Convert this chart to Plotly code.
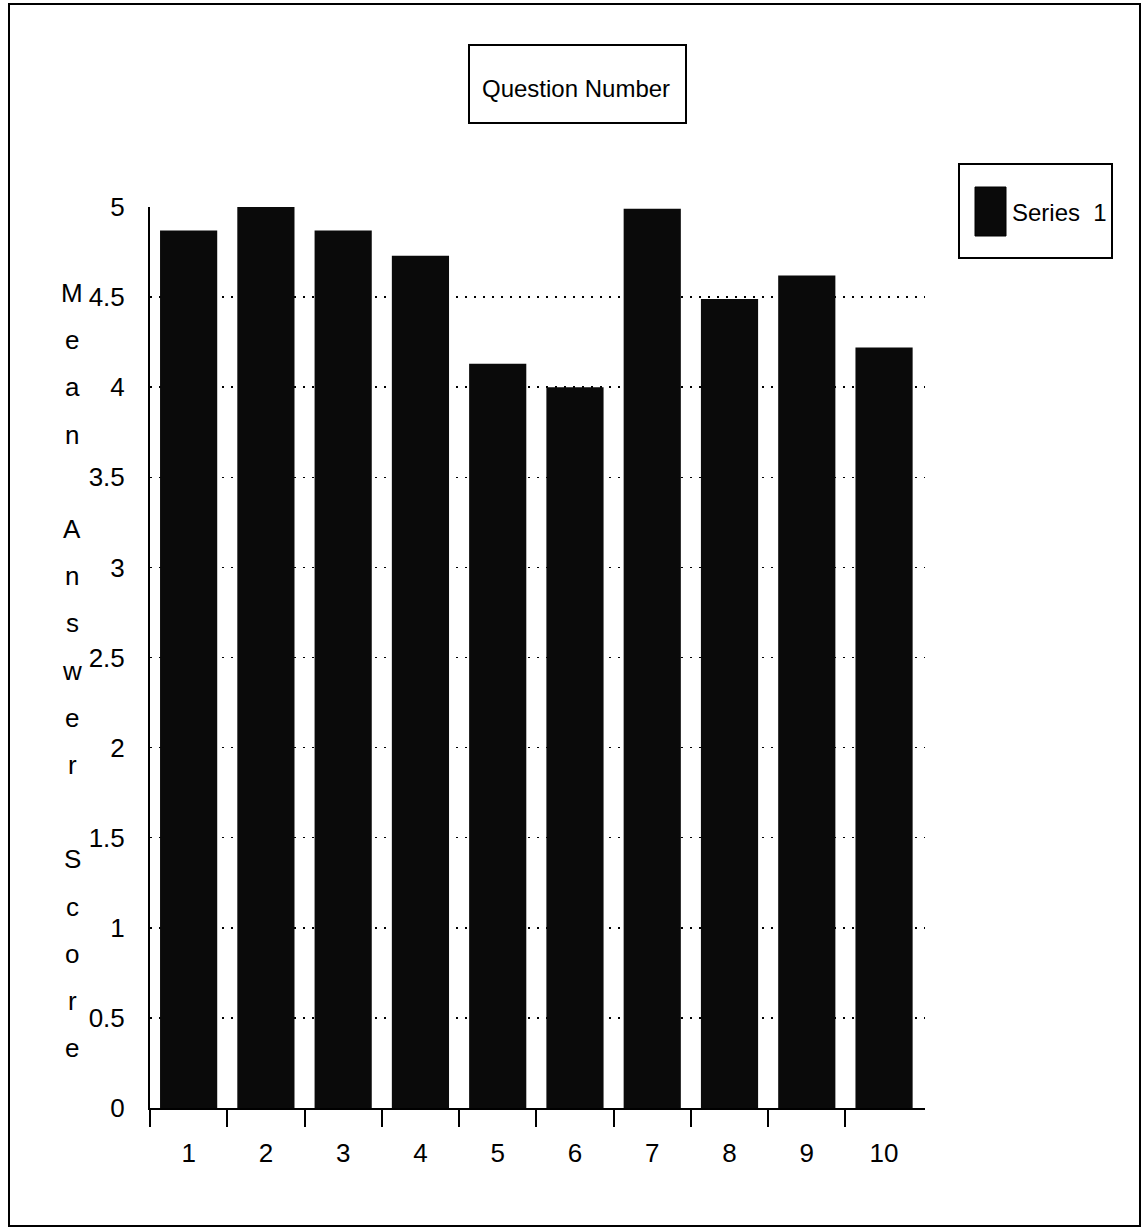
import plotly.graph_objects as go

# ---- data ----
question_numbers = [1, 2, 3, 4, 5, 6, 7, 8, 9, 10]
mean_scores = [4.87, 5.0, 4.87, 4.73, 4.13, 4.0, 4.99, 4.49, 4.62, 4.22]
series_name = "Series 1"
x_title = "Question Number"
y_title = "Mean Answer Score"
y_tick_vals = [0, 0.5, 1, 1.5, 2, 2.5, 3, 3.5, 4, 4.5, 5]
y_tick_text = ["0", "0.5", "1", "1.5", "2", "2.5", "3", "3.5", "4", "4.5", "5"]

W, H = 1146, 1230
L, R, T, B = 150, 925, 207, 1108  # plot area in pixels
FONT = "Liberation Sans, Arial, Helvetica, sans-serif"


def px(xp):
    return (xp - L) / (R - L)


def py(yp):
    return (B - yp) / (B - T)


fig = go.Figure()
fig.add_trace(go.Bar(
    x=question_numbers, y=mean_scores, name=series_name,
    marker=dict(color="#0a0a0a", line=dict(width=0)),
    showlegend=False,
))

shapes = []
annotations = []

# outer border
shapes.append(dict(type="rect", xref="paper", yref="paper",
                   x0=px(9), x1=px(1140), y0=py(1226), y1=py(4),
                   line=dict(color="black", width=2), fillcolor="rgba(0,0,0,0)"))
# title box
shapes.append(dict(type="rect", xref="paper", yref="paper",
                   x0=px(469), x1=px(686), y0=py(123), y1=py(45),
                   line=dict(color="black", width=2), fillcolor="white"))
annotations.append(dict(text=x_title, xref="paper", yref="paper",
                        x=px(576), y=py(88), showarrow=False,
                        xanchor="center", yanchor="middle",
                        font=dict(family=FONT, size=24, color="black")))
# legend box
shapes.append(dict(type="rect", xref="paper", yref="paper",
                   x0=px(959), x1=px(1112), y0=py(258), y1=py(164),
                   line=dict(color="black", width=2), fillcolor="white"))
shapes.append(dict(type="rect", xref="paper", yref="paper",
                   x0=px(975), x1=px(1006), y0=py(236), y1=py(187),
                   line=dict(color="black", width=1), fillcolor="#0a0a0a"))
annotations.append(dict(text=series_name.replace(" ", "&nbsp;&nbsp;"), xref="paper", yref="paper",
                        x=px(1010), y=py(213), showarrow=False,
                        xanchor="left", yanchor="middle",
                        font=dict(family=FONT, size=24, color="black")))

# stacked vertical y-axis title
for i, ch in enumerate(y_title):
    if ch == " ":
        continue
    annotations.append(dict(text=ch, xref="paper", yref="paper",
                            x=px(72), y=py(293 + i * 47.2), showarrow=False,
                            xanchor="center", yanchor="middle",
                            font=dict(family=FONT, size=26, color="black")))

fig.update_layout(
    width=W, height=H,
    margin=dict(l=L, r=W - R, t=T, b=H - B, pad=0),
    paper_bgcolor="white", plot_bgcolor="white",
    bargap=0.26,
    shapes=shapes, annotations=annotations,
    font=dict(family=FONT, size=26, color="black"),
)
fig.update_xaxes(
    range=[0.5, 10.53],
    tickvals=question_numbers, ticktext=[str(q) for q in question_numbers],
    ticks="", ticklabelstandoff=21,
    minor=dict(tickvals=[q - 0.5 for q in question_numbers], ticks="outside",
               ticklen=17, tickwidth=2, tickcolor="black", showgrid=False),
    showline=True, linecolor="black", linewidth=2,
    showgrid=False, zeroline=False,
    tickfont=dict(family=FONT, size=26, color="black"),
)
fig.update_yaxes(
    range=[0, 5], tickvals=y_tick_vals, ticktext=y_tick_text,
    ticks="", ticklabelstandoff=18,
    showline=True, linecolor="black", linewidth=2,
    showgrid=True, gridcolor="black", gridwidth=1.5, griddash="2px,7px",
    zeroline=False,
    tickfont=dict(family=FONT, size=26, color="black"),
)

fig.write_html("out.html",
               config={"displayModeBar": False, "staticPlot": True},
               post_script="document.body.style.margin='0';document.body.style.overflow='hidden';")
